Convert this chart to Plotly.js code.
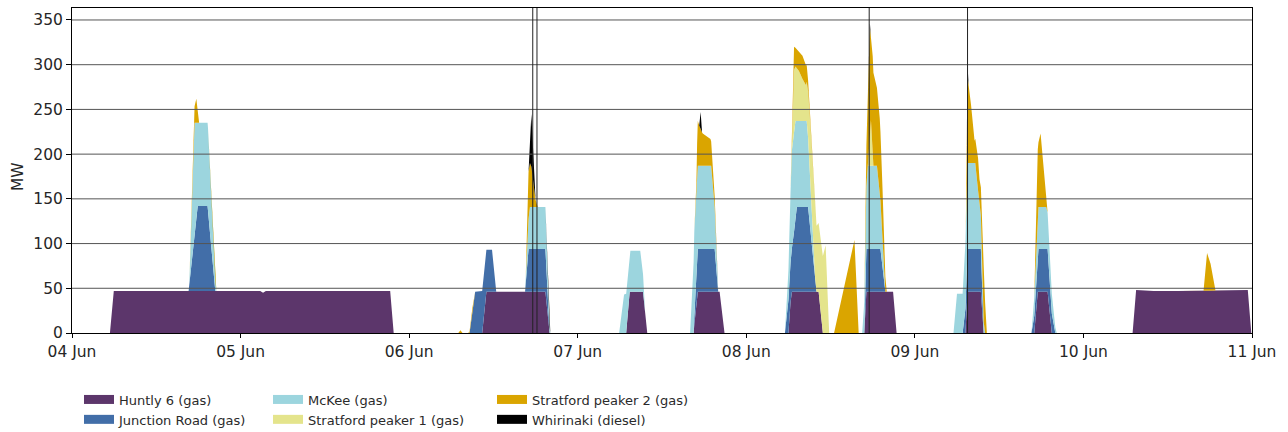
<!DOCTYPE html>
<html>
<head>
<meta charset="utf-8">
<script src="https://cdn.plot.ly/plotly-3.0.1.min.js"></script>
<style>html,body{margin:0;padding:0;background:#fff;}#chart{width:1288px;height:432px;}</style>
</head>
<body>
<div id="chart"></div>
<script>
// ---- data (times are hours after 04 Jun 00:00, values in MW) ----
const seriesNames = ['Huntly 6 (gas)', 'Junction Road (gas)', 'McKee (gas)',
                     'Stratford peaker 1 (gas)', 'Stratford peaker 2 (gas)', 'Whirinaki (diesel)'];
const seriesColors = ['#5c366b', '#426ea8', '#9cd5de', '#e4e48c', '#daa500', '#000000'];

const huntlyH  = [0, 5.4, 5.95, 26.8, 27.2, 27.6, 45.3, 45.8, 58.4, 59.0, 67.4, 68.0, 78.9, 79.4, 81.3, 81.9,
                  88.5, 89.0, 92.2, 92.9, 102.0, 102.4, 106.3, 106.9, 112.8, 113.1, 116.9, 117.4,
                  127.2, 127.5, 129.4, 129.8, 137.0, 137.5, 138.9, 139.5, 151.0, 151.5, 154.0, 157.5, 167.4, 167.9, 168];
const huntlyMW = [0, 0, 47, 47, 45, 47, 47, 0, 0, 46, 46, 0, 0, 46, 46, 0,
                  0, 46, 46, 0, 0, 46, 46, 0, 0, 46, 46, 0,
                  0, 46, 46, 0, 0, 46, 46, 0, 0, 48, 47, 47, 48, 0, 0];

const jrH  = [0, 16.6, 17.9, 19.3, 20.4, 56.6, 57.4, 58.5, 59.8, 60.4, 64.5, 65.0, 67.4, 68.0, 88.5, 89.0, 91.5, 92.0,
              101.5, 102.0, 102.5, 103.0, 103.2, 104.8, 106.0, 112.8, 113.1, 115.1, 115.8,
              126.8, 127.5, 129.4, 129.8, 136.6, 137.6, 138.9, 140.0, 168];
const jrMW = [0, 0, 95, 95, 0, 0, 46, 47, 47, 0, 0, 48, 48, 0, 0, 48, 48, 0,
              0, 37, 49, 80, 95, 95, 0, 0, 48, 48, 0,
              0, 48, 48, 0, 0, 48, 48, 0, 0];

const mckeeH  = [0, 16.7, 17.45, 17.9, 19.35, 20.55, 64.5, 65.2, 67.4, 68.1, 77.9, 78.6, 79.5, 80.9, 81.6,
                 88.0, 88.6, 89.0, 91.0, 92.0, 101.5, 102.0, 102.5, 103.0, 103.2, 104.6, 105.2, 105.8,
                 112.5, 113.3, 114.6, 115.8, 125.5, 126.0, 126.8, 127.5, 128.6, 129.2, 130.0,
                 136.6, 137.5, 138.7, 140.2, 168];
const mckeeMW = [0, 0, 126, 93, 93, 0, 0, 47, 47, 0, 0, 43, 46, 46, 0,
                 0, 95, 93, 93, 0, 0, 33, 110, 111, 96, 96, 40, 0,
                 0, 93, 93, 0, 0, 44, 44, 96, 96, 50, 0,
                 0, 47, 47, 0, 0];

const sp1H  = [0, 102.3, 102.5, 102.8, 103.0, 103.5, 104.0, 104.5, 104.8, 105.0, 105.5, 106.0, 106.4, 106.6, 107.3, 107.8,
               113.3, 113.5, 113.75, 114.1, 168];
const sp1MW = [0, 0, 10, 70, 61, 56, 47, 40, 52, 64, 79, 74, 78, 77, 98, 0,
               0, 20, 51, 0, 0];

const sp2H  = [0, 16.9, 17.7, 18.1, 55.0, 55.3, 55.6, 56.4, 57.0, 57.4, 64.6, 65.0, 65.4, 66.0, 66.3,
               88.9, 89.1, 89.5, 89.8, 90.9, 91.9,
               102.3, 102.5, 102.8, 103.0, 103.5, 104.0, 104.5, 104.8, 105.0, 105.5, 105.8,
               108.5, 111.4, 112.0,
               112.8, 113.0, 113.3, 113.6, 113.75, 114.0, 114.5, 115.0, 115.4, 115.7, 116.0,
               127.25, 127.5, 128.0, 128.5, 129.0, 129.2, 129.5, 129.8, 130.25,
               137.0, 137.5, 137.9, 138.8, 161.1, 161.6, 162.1, 162.8, 168];
const sp2MW = [0, 0, 27, 0, 0, 3, 0, 0, 5, 0, 0, 53, 45, 8, 0,
               0, 50, 40, 36, 30, 0,
               0, 10, 26, 21, 21, 26, 22, 12, 8, 5, 0,
               0, 104, 0,
               0, 30, 77, 121, 92, 108, 88, 84, 56, 25, 0,
               0, 97, 65, 25, 36, 28, 33, 62, 0,
               0, 69, 82, 0, 0, 42, 30, 0, 0];

const whirH  = [0, 65.0, 65.4, 66.0, 89.3, 89.5, 89.7, 113.45, 113.6, 113.75, 127.35, 127.5, 127.65, 168];
const whirMW = [0, 0, 59, 0, 0, 20, 0, 0, 6, 0, 0, 13, 0, 0];

const eventLineH = [65.6, 66.2, 113.5, 127.5];

const yTicks = [0, 50, 100, 150, 200, 250, 300, 350];
const dayTicks = ['2024-06-04', '2024-06-05', '2024-06-06', '2024-06-07', '2024-06-08', '2024-06-09', '2024-06-10', '2024-06-11'];
const dayLabels = ['04 Jun', '05 Jun', '06 Jun', '07 Jun', '08 Jun', '09 Jun', '10 Jun', '11 Jun'];
const legendColumn = ['legend', 'legend', 'legend2', 'legend2', 'legend3', 'legend3'];
const yTitle = 'MW';

// ---- build ----
const start = Date.UTC(2024, 5, 4);
function toDate(h) {
  return new Date(start + h * 3600000).toISOString().replace('T', ' ').slice(0, 19);
}
const seriesH = [huntlyH, jrH, mckeeH, sp1H, sp2H, whirH];
const seriesMW = [huntlyMW, jrMW, mckeeMW, sp1MW, sp2MW, whirMW];

const traces = [];
seriesNames.forEach((name, i) => {
  traces.push({
    type: 'scatter', mode: 'lines', name: name,
    x: seriesH[i].map(toDate), y: seriesMW[i],
    stackgroup: 'one', stackgaps: 'interpolate',
    line: {width: 0, color: seriesColors[i]},
    fillcolor: seriesColors[i],
    showlegend: false, hoverinfo: 'skip'
  });
});
// legend entries (no marks on the plot)
seriesNames.forEach((name, i) => {
  traces.push({
    type: 'scatter', mode: 'lines', name: name,
    x: [null], y: [null], fill: 'toself',
    fillcolor: seriesColors[i],
    line: {width: 6, color: seriesColors[i]},
    legend: legendColumn[i], showlegend: true, hoverinfo: 'skip'
  });
});

const shapes = [];
yTicks.slice(1).forEach(v => shapes.push({
  type: 'line', xref: 'paper', yref: 'y', x0: 0, x1: 1, y0: v, y1: v,
  line: {color: '#555555', width: 1}, layer: 'above'
}));
eventLineH.forEach(h => shapes.push({
  type: 'line', xref: 'x', yref: 'paper', x0: toDate(h), x1: toDate(h), y0: 0, y1: 1,
  line: {color: '#222222', width: 1}, layer: 'above'
}));

const legendBase = {
  xref: 'container', yref: 'container', xanchor: 'left', yanchor: 'top',
  y: 1 - 385 / 432, bgcolor: 'rgba(0,0,0,0)', borderwidth: 0,
  font: {size: 13, color: '#2a2a2a', family: 'DejaVu Sans, sans-serif'},
  traceorder: 'normal', itemwidth: 30, orientation: 'v'
};

const layout = {
  width: 1288, height: 432,
  margin: {l: 72, r: 36, t: 8, b: 99, autoexpand: false},
  paper_bgcolor: '#ffffff', plot_bgcolor: '#ffffff',
  font: {family: 'DejaVu Sans, sans-serif', color: '#262626', size: 15.5},
  xaxis: {
    type: 'date', range: [toDate(0), toDate(168)], automargin: false,
    tickvals: dayTicks, ticktext: dayLabels,
    ticks: 'outside', ticklen: 4, tickcolor: '#000', tickwidth: 1,
    showgrid: false, zeroline: false,
    showline: true, linecolor: '#000', linewidth: 1, mirror: true,
    tickfont: {size: 15.5, color: '#262626'}
  },
  yaxis: {
    range: [0, 363.4], tickvals: yTicks, automargin: false,
    ticks: 'outside', ticklen: 5, tickcolor: '#000', tickwidth: 1,
    showgrid: false, zeroline: false,
    showline: true, linecolor: '#000', linewidth: 1, mirror: true,
    tickfont: {size: 15.5, color: '#262626'}
  },
  annotations: [{
    text: yTitle, xref: 'paper', yref: 'paper', x: 0, y: 0.48,
    xanchor: 'center', yanchor: 'middle', xshift: -54, textangle: -90,
    showarrow: false, font: {size: 15.5, color: '#262626'}
  }],
  shapes: shapes,
  showlegend: true,
  legend: Object.assign({}, legendBase, {x: 79 / 1288}),
  legend2: Object.assign({}, legendBase, {x: 268 / 1288}),
  legend3: Object.assign({}, legendBase, {x: 492 / 1288})
};

Plotly.newPlot('chart', traces, layout, {displayModeBar: false, staticPlot: true});
</script>
</body>
</html>
